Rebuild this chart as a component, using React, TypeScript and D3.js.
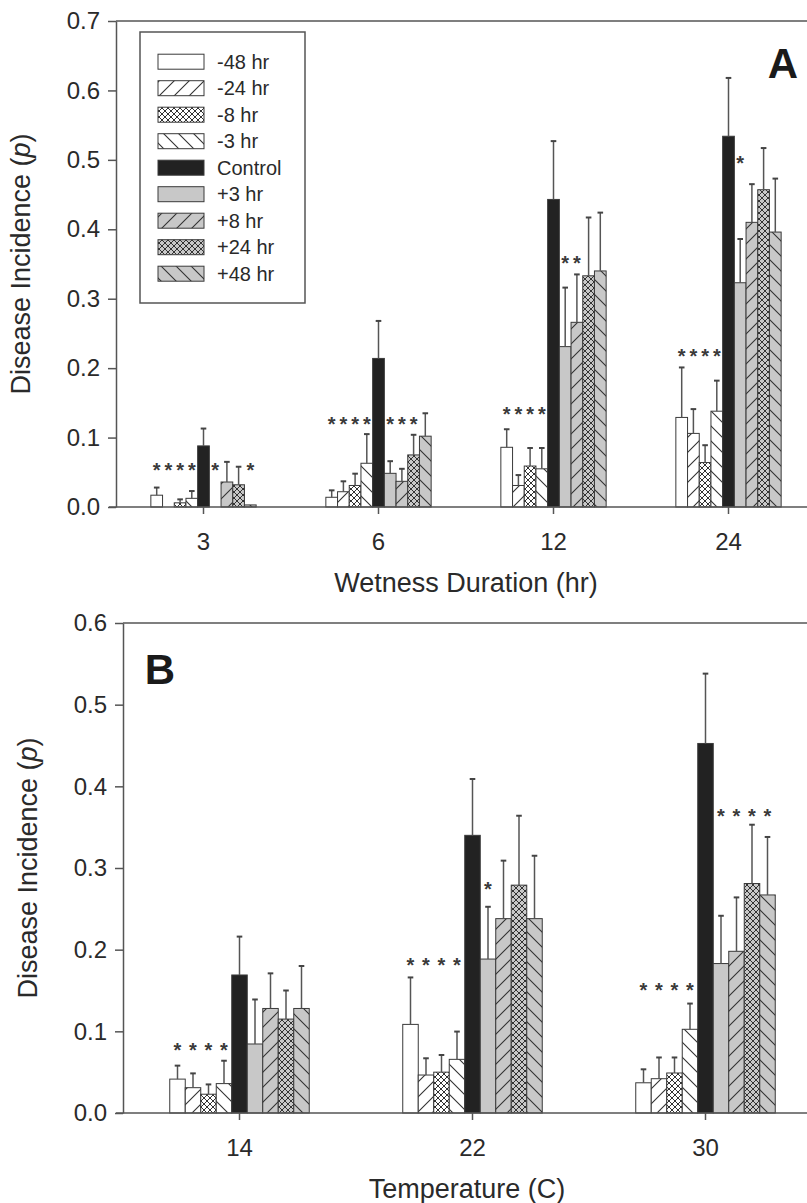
import * as React from "react";
import * as d3 from "d3";

// series (same for both panels)
const seriesNames = ["-48 hr", "-24 hr", "-8 hr", "-3 hr", "Control", "+3 hr", "+8 hr", "+24 hr", "+48 hr"];
const seriesFills = ["#ffffff", "url(#fwdW)", "url(#crossW)", "url(#backW)", "#222222", "#c8c8c8", "url(#fwdG)", "url(#crossG)", "url(#backG)"];

// panel A: wetness duration
const wetnessCats = ["3", "6", "12", "24"];
const wetnessMeans = [
  [0.017, 0.0, 0.006, 0.0125, 0.088, 0.0, 0.036, 0.032, 0.003],
  [0.014, 0.022, 0.031, 0.063, 0.214, 0.0485, 0.037, 0.075, 0.102],
  [0.086, 0.031, 0.059, 0.055, 0.443, 0.231, 0.266, 0.333, 0.34],
  [0.129, 0.106, 0.064, 0.138, 0.534, 0.323, 0.41, 0.457, 0.396],
];
const wetnessErrors = [
  [0.011, 0, 0.005, 0.0105, 0.025, 0, 0.029, 0.026, 0],
  [0.01, 0.015, 0.017, 0.042, 0.054, 0.0175, 0.018, 0.029, 0.033],
  [0.026, 0.015, 0.026, 0.03, 0.084, 0.085, 0.069, 0.084, 0.084],
  [0.072, 0.035, 0.025, 0.044, 0.084, 0.063, 0.055, 0.06, 0.077],
];
// [category index, series indices, level]
const wetnessStars: [number, number[], number][] = [
  [0, [0, 1, 2, 3, 5, 8], 0.059],
  [1, [0, 1, 2, 3, 5, 6, 7], 0.125],
  [2, [0, 1, 2, 3], 0.139],
  [2, [5, 6], 0.357],
  [3, [0, 1, 2, 3], 0.223],
  [3, [5], 0.501],
];

// panel B: temperature
const tempCats = ["14", "22", "30"];
const tempMeans = [
  [0.0415, 0.031, 0.023, 0.036, 0.169, 0.0845, 0.128, 0.115, 0.128],
  [0.1085, 0.0465, 0.05, 0.0657, 0.34, 0.1885, 0.238, 0.279, 0.238],
  [0.037, 0.042, 0.049, 0.1025, 0.4525, 0.183, 0.198, 0.281, 0.267],
];
const tempErrors = [
  [0.0165, 0.0175, 0.012, 0.028, 0.047, 0.0545, 0.043, 0.035, 0.052],
  [0.0575, 0.0205, 0.021, 0.034, 0.069, 0.064, 0.071, 0.085, 0.077],
  [0.0165, 0.026, 0.019, 0.0315, 0.0855, 0.0585, 0.066, 0.072, 0.071],
];
const tempStars: [number, number[], number][] = [
  [0, [0, 1, 2, 3], 0.082],
  [1, [0, 1, 2, 3], 0.186],
  [1, [5], 0.279],
  [2, [0, 1, 2, 3], 0.155],
  [2, [5, 6, 7, 8], 0.369],
];

const FONT = "Arial, 'Liberation Sans', Helvetica, sans-serif";
const AXIS = "#555";
const TEXT = "#2a2a2a";

function drawPanel(svg, p) {
  const y = d3.scaleLinear().domain([0, p.ymax]).range([p.bottom, p.top]);
  const x = d3.scaleBand().domain(p.cats).range([p.left, p.left + p.band * p.cats.length]);
  const s = d3.scaleBand().domain(seriesNames).range([-4.5 * p.bw, 4.5 * p.bw]);
  const cx = c => x(c) + x.bandwidth() / 2;

  const g = svg.append("g");

  // top frame line
  g.append("line")
    .attr("x1", p.left).attr("x2", 830)
    .attr("y1", p.top).attr("y2", p.top)
    .attr("stroke", AXIS).attr("stroke-width", 1.5);

  // bars
  p.cats.forEach((c, ci) => {
    seriesNames.forEach((name, si) => {
      const v = p.means[ci][si];
      if (v <= 0) return;
      g.append("rect")
        .attr("x", cx(c) + s(name))
        .attr("width", s.bandwidth())
        .attr("y", y(v))
        .attr("height", y(0) - y(v))
        .attr("fill", seriesFills[si])
        .attr("stroke", "#3a3a3a")
        .attr("stroke-width", 1);
    });
  });

  // error bars (upper only)
  p.cats.forEach((c, ci) => {
    seriesNames.forEach((name, si) => {
      const v = p.means[ci][si], e = p.errors[ci][si];
      if (e <= 0) return;
      const xm = cx(c) + s(name) + s.bandwidth() / 2;
      g.append("line")
        .attr("x1", xm).attr("x2", xm)
        .attr("y1", y(v)).attr("y2", y(v + e))
        .attr("stroke", "#555").attr("stroke-width", 1.5);
      g.append("line")
        .attr("x1", xm - 2.8).attr("x2", xm + 2.8)
        .attr("y1", y(v + e)).attr("y2", y(v + e))
        .attr("stroke", "#444").attr("stroke-width", 2);
    });
  });

  // significance stars
  p.stars.forEach(([ci, list, level]) => {
    list.forEach(si => {
      g.append("text")
        .attr("x", cx(p.cats[ci]) + s(seriesNames[si]) + s.bandwidth() / 2)
        .attr("y", y(level) + 11)
        .attr("text-anchor", "middle")
        .attr("font-family", FONT)
        .attr("font-size", 20)
        .attr("font-weight", "bold")
        .attr("fill", "#3a3a3a")
        .text("*");
    });
  });

  // y axis
  const yAxis = d3.axisLeft(y)
    .tickValues(d3.range(0, p.ymax + 0.001, 0.1))
    .tickFormat(d3.format(".1f"))
    .tickSize(8)
    .tickSizeOuter(0)
    .tickPadding(8);
  const ya = g.append("g")
    .attr("transform", `translate(${p.left},0)`)
    .call(yAxis);
  ya.selectAll("path,line").attr("stroke", AXIS).attr("stroke-width", 1.5);
  ya.selectAll("text").attr("font-family", FONT).attr("font-size", 24).attr("fill", TEXT);

  // x axis
  g.append("line")
    .attr("x1", p.left - 7).attr("x2", 830)
    .attr("y1", p.bottom).attr("y2", p.bottom)
    .attr("stroke", AXIS).attr("stroke-width", 1.5);
  p.cats.forEach(c => {
    g.append("line")
      .attr("x1", cx(c)).attr("x2", cx(c))
      .attr("y1", p.bottom).attr("y2", p.bottom + 7)
      .attr("stroke", AXIS).attr("stroke-width", 1.5);
    g.append("text")
      .attr("x", cx(c)).attr("y", p.bottom + 43)
      .attr("text-anchor", "middle")
      .attr("font-family", FONT).attr("font-size", 24).attr("fill", TEXT)
      .text(c);
  });
  g.append("text")
    .attr("x", p.xTitleX).attr("y", p.bottom + 85)
    .attr("text-anchor", "middle")
    .attr("font-family", FONT).attr("font-size", 27).attr("fill", TEXT)
    .text(p.xTitle);

  // y title
  const yt = g.append("text")
    .attr("transform", `translate(${p.yTitleX},${(p.top + p.bottom) / 2}) rotate(-90)`)
    .attr("text-anchor", "middle")
    .attr("font-family", FONT).attr("font-size", 27).attr("fill", TEXT);
  yt.append("tspan").text("Disease Incidence (");
  yt.append("tspan").attr("font-style", "italic").text("p");
  yt.append("tspan").text(")");

  // panel letter
  g.append("text")
    .attr("x", p.letterX).attr("y", p.letterY)
    .attr("text-anchor", "middle")
    .attr("font-family", FONT).attr("font-size", 42).attr("font-weight", "bold").attr("fill", "#1a1a1a")
    .text(p.letter);
}

function drawPatterns(svg) {
  const defs = svg.append("defs");
  const make = (id, bg, d, size, sw) => {
    const pt = defs.append("pattern")
      .attr("id", id)
      .attr("patternUnits", "userSpaceOnUse")
      .attr("width", size).attr("height", size);
    pt.append("rect").attr("width", size).attr("height", size).attr("fill", bg);
    pt.append("path").attr("d", d).attr("stroke", "#333").attr("stroke-width", sw).attr("fill", "none");
  };
  const fwd = "M0,15L15,0M-3,3L3,-3M12,18L18,12";
  const back = "M0,0L15,15M-3,12L3,18M12,-3L18,3";
  const cross = "M0,0L6,6M6,0L0,6";
  make("fwdW", "#ffffff", fwd, 15, 1.1);
  make("backW", "#ffffff", back, 15, 1.1);
  make("crossW", "#ffffff", cross, 6, 1);
  make("fwdG", "#c8c8c8", fwd, 15, 1.1);
  make("backG", "#c8c8c8", back, 15, 1.1);
  make("crossG", "#c8c8c8", cross, 6, 1);
}

function drawLegend(svg) {
  const g = svg.append("g");
  g.append("rect")
    .attr("x", 140).attr("y", 32).attr("width", 165).attr("height", 271)
    .attr("fill", "#fff").attr("stroke", AXIS).attr("stroke-width", 1.5);
  const row = d3.scalePoint().domain(seriesNames).range([61.7, 273.7]);
  seriesNames.forEach((name, i) => {
    g.append("rect")
      .attr("x", 158).attr("y", row(name) - 7.5)
      .attr("width", 46).attr("height", 15)
      .attr("fill", seriesFills[i])
      .attr("stroke", "#3a3a3a").attr("stroke-width", 1);
    g.append("text")
      .attr("x", 217).attr("y", row(name))
      .attr("dy", "0.35em")
      .attr("font-family", FONT).attr("font-size", 20).attr("fill", TEXT)
      .text(name);
  });
}

export default function App() {
  const ref = React.useRef(null);

  React.useEffect(() => {
    const svg = d3.select(ref.current);
    svg.selectAll("*").remove();
    drawPatterns(svg);

    drawPanel(svg, {
      cats: wetnessCats, means: wetnessMeans, errors: wetnessErrors, stars: wetnessStars,
      ymax: 0.7, top: 21, bottom: 507, left: 116, band: 175, bw: 11.7,
      xTitle: "Wetness Duration (hr)", xTitleX: 466, yTitleX: 30,
      letter: "A", letterX: 783, letterY: 78,
    });
    drawLegend(svg);

    drawPanel(svg, {
      cats: tempCats, means: tempMeans, errors: tempErrors, stars: tempStars,
      ymax: 0.6, top: 623, bottom: 1113, left: 123, band: 233, bw: 15.5,
      xTitle: "Temperature (C)", xTitleX: 467, yTitleX: 37,
      letter: "B", letterX: 160, letterY: 684,
    });
  }, []);

  return (
    <svg
      ref={ref}
      width={807}
      height={1203}
      style={{ position: "absolute", left: 0, top: 0, background: "#fff" }}
    />
  );
}
